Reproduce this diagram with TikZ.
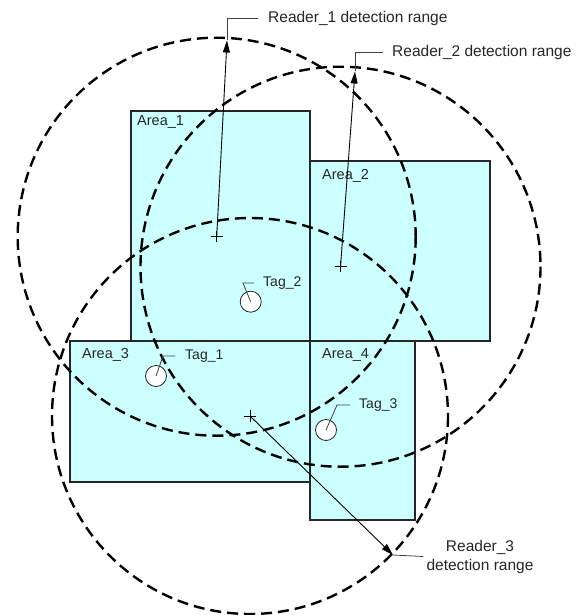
\documentclass[tikz,border=0pt]{standalone}
\usepackage{fontspec}
\setmainfont{Liberation Sans}
\usetikzlibrary{arrows.meta}
\definecolor{areafill}{HTML}{CCFFFF}
\begin{document}
\begin{tikzpicture}[x=1pt,y=-1pt,
  area/.style={draw=black!85, line width=1.1pt, fill=areafill},
  rangecircle/.style={draw=black, line width=2.4pt, dash pattern=on 11pt off 6pt},
  pointer/.style={draw=black, line width=0.9pt, -{Triangle[length=12pt,width=7pt]}},
  leader/.style={draw=black!75, line width=0.8pt},
  centermark/.style={draw=black, line width=0.8pt},
  tagc/.style={circle, draw=black!85, line width=0.8pt, fill=white, minimum size=21pt, inner sep=0pt},
  arealbl/.style={anchor=west, inner sep=0pt, text=black!85, font=\fontsize{14.5}{16}\selectfont},
  taglbl/.style={anchor=west, inner sep=0pt, text=black!85, font=\fontsize{14}{16}\selectfont},
  readlbl/.style={anchor=west, inner sep=0pt, text=black!85, font=\fontsize{15.5}{19}\selectfont}]
\useasboundingbox (0,0) rectangle (578,615);
% areas
\draw[area] (131,111) rectangle (310,341);
\draw[area] (310,161) rectangle (490,341);
\draw[area] (70,341) rectangle (310,482);
\draw[area] (310,341) rectangle (415,520);
\node[arealbl] (a1) at (137,122) {Area\_1};
\node[arealbl] (a2) at (322,176) {Area\_2};
\node[arealbl] (a3) at (82,355) {Area\_3};
\node[arealbl] (a4) at (322,355) {Area\_4};
% reader centers
\coordinate (r1) at (216.7,236.7);
\coordinate (r2) at (340.5,266.7);
\coordinate (r3) at (250,416);
% detection ranges
\draw[rangecircle] (r1) circle[radius=199];
\draw[rangecircle] (r2) circle[radius=200];
\draw[rangecircle] (r3) circle[radius=198];
% center marks
\draw[centermark] (r1) +(-6,0) -- +(6,0) (r1) +(0,-6) -- +(0,5);
\draw[centermark] (r2) +(-6,0) -- +(6,0) (r2) +(0,-6) -- +(0,5);
\draw[centermark] (r3) +(-6,0) -- +(6,0) (r3) +(0,-6) -- +(0,6);
% arrow tips
\coordinate (t1) at (227,40.5);
\coordinate (t2) at (355,71.5);
\coordinate (t3) at (393,555);
\draw[pointer] (r1) -- (t1);
\draw[pointer] (r2) -- (t2);
\draw[pointer] (r3) -- (t3);
% reader labels
\node[readlbl] (l1) at (268,18) {Reader\_1 detection range};
\node[readlbl] (l2) at (392,52) {Reader\_2 detection range};
\node[inner sep=0pt, align=center, text=black!85, font=\fontsize{15.5}{19}\selectfont] (l3) at (480,556.5) {Reader\_3\\detection range};
\draw[leader] (t1) |- ([xshift=-10pt]l1.west);
\draw[leader] (t2) |- ([xshift=-9pt]l2.west);
\draw[leader] (t3) -- ([xshift=-3pt]l3.west);
% tags
\node[tagc] (g1) at (156,376) {};
\node[tagc] (g2) at (250.7,301.7) {};
\node[tagc] (g3) at (326,430) {};
\node[taglbl] (n1) at (185,356) {Tag\_1};
\node[taglbl] (n2) at (263,283) {Tag\_2};
\node[taglbl] (n3) at (359,405) {Tag\_3};
\coordinate (k1) at (163,356);
\coordinate (k2) at (243,283);
\coordinate (k3) at (337,405);
\draw[leader] (g1.center) -- (k1) -- ([xshift=-10pt]n1.west);
\draw[leader] (g2.center) -- (k2) -- ([xshift=-9pt]n2.west);
\draw[leader] (g3.center) -- (k3) -- ([xshift=-9pt]n3.west);
\end{tikzpicture}
\end{document}
